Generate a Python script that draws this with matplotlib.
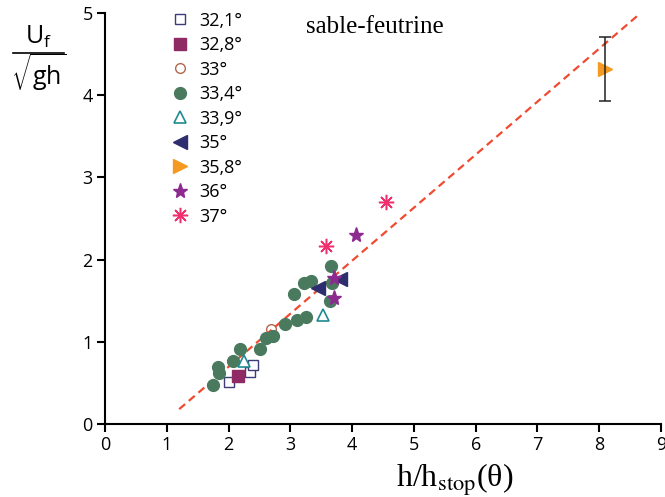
import numpy as np
import matplotlib
matplotlib.use('Agg')
import matplotlib.pyplot as plt
from matplotlib.lines import Line2D

plt.rcParams['font.family'] = ['Open Sans', 'DejaVu Sans']
plt.rcParams['mathtext.fontset'] = 'custom'
plt.rcParams['mathtext.rm'] = 'Open Sans'

# data (x = h/hstop, y = Uf/sqrt(gh))
x_321 = [2.01, 2.34, 2.39]
y_321 = [0.51, 0.63, 0.72]
x_328 = [2.16]
y_328 = [0.58]
x_33 = [2.68]
y_33 = [1.15]
x_334 = [1.75, 1.83, 1.85, 2.07, 2.18, 2.51, 2.61, 2.72, 2.92, 3.10, 3.26,
         3.06, 3.22, 3.33, 3.65, 3.64, 3.67]
y_334 = [0.47, 0.69, 0.62, 0.76, 0.91, 0.91, 1.05, 1.07, 1.22, 1.27, 1.30,
         1.58, 1.72, 1.74, 1.92, 1.49, 1.71]
x_339 = [2.25, 3.52]
y_339 = [0.76, 1.33]
x_35 = [3.45, 3.80]
y_35 = [1.65, 1.76]
x_358 = [8.09]
y_358 = [4.32]
err_358 = [0.39]
x_36 = [3.71, 3.71, 4.06]
y_36 = [1.78, 1.53, 2.30]
x_37 = [3.58, 4.55]
y_37 = [2.17, 2.70]

fit_x = [1.2, 8.62]
slope, intercept = 0.645, -0.594

fig = plt.figure(figsize=(6.65, 4.97), dpi=100)
ax = fig.add_axes([0.158, 0.147, 0.836, 0.827])

fx = np.array(fit_x)
ax.plot(fx, slope * fx + intercept, color='#f04a30', lw=1.6, dashes=(3.5, 2.2), zorder=1)

ax.plot(x_321, y_321, 's', ms=7, mfc='white', mec='#3d3c78', mew=1, label='32,1°')
ax.plot(x_328, y_328, 's', ms=8, color='#902a65', label='32,8°')
ax.plot(x_33, y_33, 'o', ms=7, mfc='none', mec='#b3664c', mew=1, label='33°')
ax.plot(x_334, y_334, 'o', ms=8.5, color='#4a7a5e', label='33,4°')
ax.plot(x_339, y_339, '^', ms=9, mfc='white', mec='#1f8a8f', mew=1.2, label='33,9°')
ax.plot(x_35, y_35, '<', ms=10, color='#2e2d6e', label='35°')
ax.errorbar(x_358, y_358, yerr=err_358, fmt='none', ecolor='#222222', elinewidth=1.1,
            capsize=4, capthick=1.1, zorder=3)
ax.plot(x_358, y_358, '>', ms=10, color='#f59a20', zorder=2, label='35,8°')
ax.plot(x_36, y_36, '*', ms=11, color='#8c2a90', label='36°')
ax.plot(x_37, y_37, marker=(8, 2, 0), ls='none', ms=11, mew=1.1, color='#f0306e', label='37°')

ax.set_xlim(0, 9)
ax.set_ylim(0, 5)
ax.set_xticks(range(0, 10))
ax.set_yticks(range(0, 6))
for s in ['top', 'right']:
    ax.spines[s].set_visible(False)
for s in ['left', 'bottom']:
    ax.spines[s].set_linewidth(1.5)
ax.tick_params(direction='out', length=6, width=1.5, labelsize=13, pad=3)

ax.legend(loc='upper left', bbox_to_anchor=(0.235, 1.002), bbox_transform=fig.transFigure,
          frameon=False, fontsize=13, labelspacing=0.36, handletextpad=0.5,
          handlelength=1.2, numpoints=1, borderpad=0.2)

ax.text(0.486, 0.966, 'sable-feutrine', transform=ax.transAxes, ha='center', va='center',
        fontsize=18, family='Liberation Serif')

fig.text(0.683, 0.035, r'h/h$_{\rm stop}$(θ)', ha='center', va='center', fontsize=23,
         family='Liberation Serif', math_fontfamily='stix')

fig.text(0.058, 0.926, r'$\mathrm{U_f}$', ha='center', va='center', fontsize=18)
fig.add_artist(Line2D([0.02, 0.096], [0.893, 0.893], color='black', lw=1.2,
                      transform=fig.transFigure))
fig.text(0.058, 0.855, r'$\sqrt{\mathrm{gh}}$', ha='center', va='center', fontsize=18)

fig.savefig('out.png', dpi=100)
